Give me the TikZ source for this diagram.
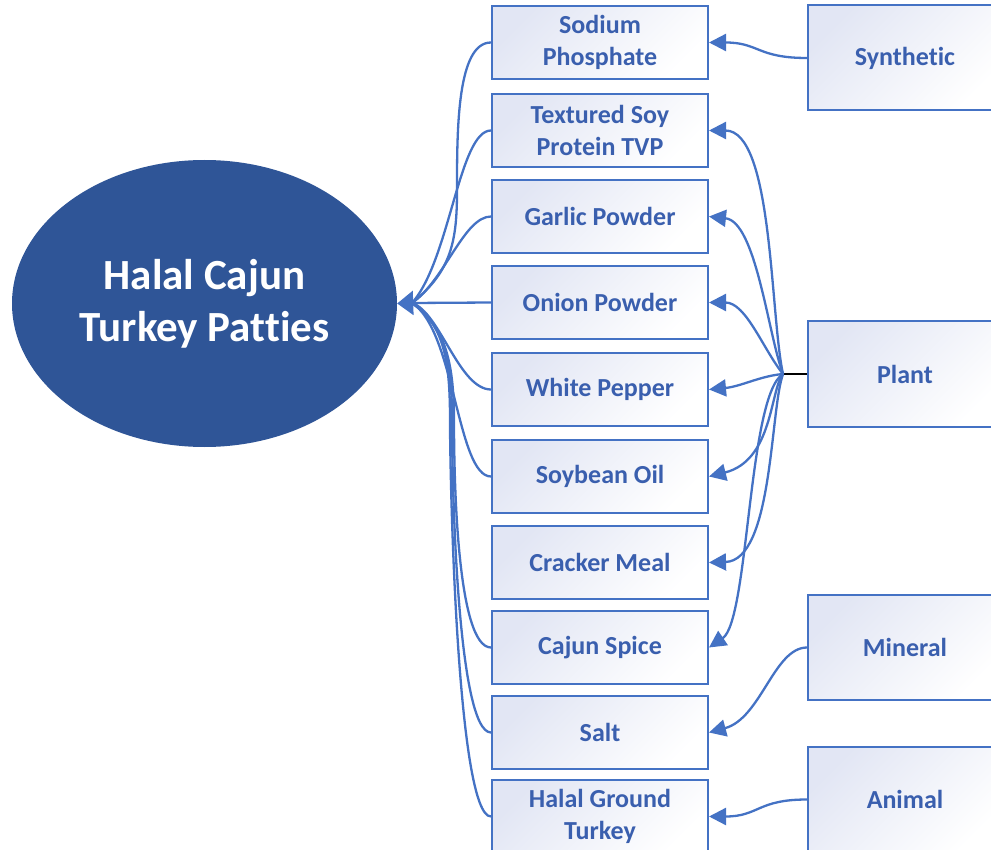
\documentclass[tikz,border=0pt]{standalone}
\usepackage{fontspec}
\setmainfont{Carlito}[Ligatures=NoCommon]
\usetikzlibrary{arrows.meta,shapes.geometric}
\definecolor{linkblue}{HTML}{4472C4}
\definecolor{darkblue}{HTML}{2F5597}
\definecolor{textblue}{HTML}{3A5FAE}
\definecolor{boxtint}{HTML}{E2E6F4}

\begin{document}
\begin{tikzpicture}[x=1pt,y=-1pt,
    item/.style={draw=linkblue,line width=2pt,top color=boxtint,bottom color=white,shading angle=45,
        minimum width=216pt,minimum height=73pt,inner sep=0pt,align=center,
        text=textblue,font=\fontsize{26}{32}\selectfont\bfseries},
    source/.style={item,minimum width=194pt,minimum height=105pt},
    link/.style={draw=linkblue,line width=2.3pt},
    tip/.style={-{Triangle[length=17pt,width=17pt]}}]
    \useasboundingbox (0,0) rectangle (991,850);
    \clip (0,0) rectangle (991,850);
    % product
    \node[ellipse,fill=darkblue,minimum width=385pt,minimum height=287pt,inner sep=0pt,
        text=white,align=center,font=\fontsize{43}{52}\selectfont\bfseries] (patty) at (204.5,303.5) {Halal Cajun\\Turkey Patties};
    % ingredients
    \node[item] (sodium) at (600,42.5) {Sodium\\Phosphate};
    \node[item] (soy) at (600,130.5) {Textured Soy\\Protein TVP};
    \node[item] (garlic) at (600,216.5) {Garlic Powder};
    \node[item] (onion) at (600,302.5) {Onion Powder};
    \node[item] (pepper) at (600,389.5) {White Pepper};
    \node[item] (oil) at (600,476.5) {Soybean Oil};
    \node[item] (cracker) at (600,562.5) {Cracker Meal};
    \node[item] (cajun) at (600,647.5) {Cajun Spice};
    \node[item] (salt) at (600,732.5) {Salt};
    \node[item] (turkey) at (600,816.5) {Halal Ground\\Turkey};
    % sources
    \node[source] (synthetic) at (905,58) {Synthetic};
    \node[source] (plant) at (905,374) {Plant};
    \node[source] (mineral) at (905,647.5) {Mineral};
    \node[source] (animal) at (905,799.5) {Animal};
    % ingredients -> product
    \coordinate (hub) at (412,303);
    \draw[link,-{Triangle[length=16pt,width=24pt]}] (hub) -- (patty.east);
    \draw[link] (sodium.west) .. controls +(-34,0) and +(0,-60) .. (457,190) .. controls +(0,50) and +(40,-32) .. (hub);
    \draw[link] (soy.west) .. controls +(-32,0) and +(38,-43) .. (hub);
    \draw[link] (garlic.west) .. controls +(-27,0) and +(33,-23) .. (hub);
    \draw[link] (onion.west) -- (hub);
    \draw[link] (pepper.west) .. controls +(-32,0) and +(28,9) .. (hub);
    \draw[link] (oil.west) .. controls +(-34,0) and +(43,27) .. (hub);
    \draw[link] (cajun.west) .. controls +(-34,0) and +(0,60) .. (454,420) .. controls +(0,-60) and +(32,22) .. (hub);
    \draw[link] (salt.west) .. controls +(-34,0) and +(0,60) .. (452,420) .. controls +(0,-60) and +(32,22) .. (hub);
    \draw[link] (turkey.west) .. controls +(-34,0) and +(0,60) .. (450,420) .. controls +(0,-60) and +(32,22) .. (hub);
    % sources -> ingredients
    \coordinate (phub) at (783,374);
    \draw[line width=2pt] (plant.west) -- (phub);
    \draw[link,tip] (phub) .. controls +(-13,-60) and +(64,0) .. (soy.east);
    \draw[link,tip] (phub) .. controls +(-15,-40) and +(47,5) .. (garlic.east);
    \draw[link,tip] (phub) .. controls +(-20,-25) and +(37,0) .. (onion.east);
    \draw[link,tip] (phub) .. controls +(-23,2) and +(32,-3) .. (pepper.east);
    \draw[link,tip] (phub) .. controls +(-13,16) and +(64,-16) .. (oil.east);
    \draw[link,tip] (phub) .. controls +(-13,36) and +(64,-2) .. (cracker.east);
    \draw[link,tip] (phub) .. controls +(-35,21) and +(40,-27) .. (cajun.east);
    \draw[link,tip] (synthetic.west) .. controls +(-50,0) and +(50,0) .. (sodium.east);
    \draw[link,tip] (mineral.west) .. controls +(-33,0) and +(52,-14) .. (salt.east);
    \draw[link,tip] (animal.west) .. controls +(-50,0) and +(50,0) .. (turkey.east);
\end{tikzpicture}
\end{document}
